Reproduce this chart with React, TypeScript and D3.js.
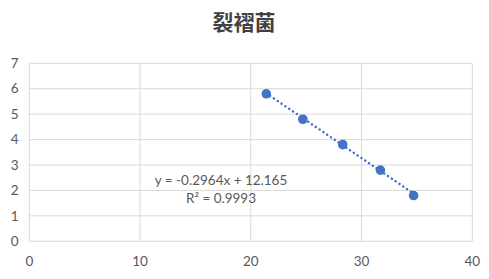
import React from "react";
import * as d3 from "d3";

const title = "裂褶菌";
const xValues = [21.4, 24.7, 28.3, 31.7, 34.7];
const yValues = [5.8, 4.8, 3.8, 2.8, 1.8];
const xTicks = [0, 10, 20, 30, 40];
const yTicks = [0, 1, 2, 3, 4, 5, 6, 7];
const slope = -0.2964;
const intercept = 12.165;
const eqLabel = "y = -0.2964x + 12.165";
const r2Label = "R² = 0.9993";

export default function App() {
  const W = 489, H = 279;
  const x = d3.scaleLinear().domain([0, 40]).range([29.3, 472.3]);
  const y = d3.scaleLinear().domain([0, 7]).range([241.3, 63.3]);
  const font = "Lato, 'Open Sans', sans-serif";
  const xmin = d3.min(xValues)!, xmax = d3.max(xValues)!;
  const trend = d3.line<number>().x(v => x(v)).y(v => y(slope * v + intercept));
  return (
    <svg width={W} height={H} style={{ position: "absolute", left: 0, top: 0 }}>
      <rect width={W} height={H} fill="#fff" />
      {yTicks.map(t => (
        <line key={"h" + t} x1={x(0)} x2={x(40)} y1={y(t)} y2={y(t)} stroke="#d9d9d9" strokeWidth={1} />
      ))}
      {xTicks.map(t => (
        <line key={"v" + t} x1={x(t)} x2={x(t)} y1={y(0)} y2={y(7)} stroke="#d9d9d9" strokeWidth={1} />
      ))}
      {yTicks.map(t => (
        <text key={"yl" + t} x={18.5} y={y(t)} dy="0.35em" textAnchor="end" fontFamily={font} fontSize={13.5} fill="#595959">{t}</text>
      ))}
      {xTicks.map(t => (
        <text key={"xl" + t} x={x(t)} y={261} dy="0.35em" textAnchor="middle" fontFamily={font} fontSize={13.5} fill="#595959">{t}</text>
      ))}
      <path d={trend([xmin, xmax])!} fill="none" stroke="#4472C4" strokeWidth={2.5} strokeDasharray="0.1 4.5" strokeLinecap="round" />
      {xValues.map((v, i) => (
        <circle key={"p" + i} cx={x(v)} cy={y(yValues[i])} r={4.8} fill="#4472C4" />
      ))}
      <text x={221} y={180} dy="0.35em" textAnchor="middle" fontFamily={font} fontSize={13.5} fill="#595959">{eqLabel}</text>
      <text x={221} y={198} dy="0.35em" textAnchor="middle" fontFamily={font} fontSize={13.5} fill="#595959">{r2Label}</text>
      <text x={244} y={23} dy="0.35em" textAnchor="middle" fontFamily="'Noto Sans CJK SC', sans-serif" fontWeight={700} fontSize={21} fill="#404040">{title}</text>
    </svg>
  );
}
